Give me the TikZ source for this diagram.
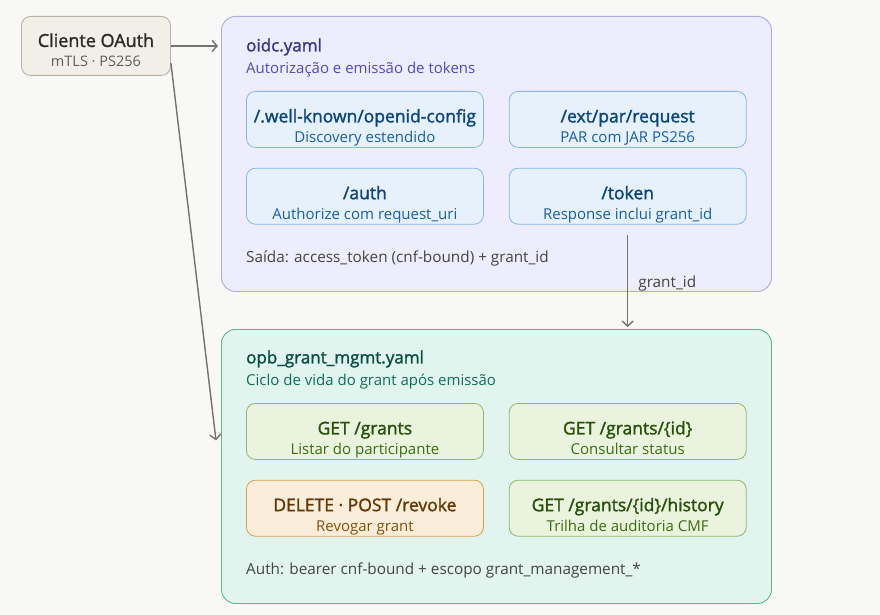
\documentclass[tikz,border=0pt]{standalone}
\usepackage{fontspec}
\setmainfont{Open Sans}
\newfontfamily\medfont{Open Sans}[FakeBold=1.6]
\usepackage{xcolor}
\usetikzlibrary{arrows.meta,positioning}

\definecolor{bgcol}{HTML}{F8F8F6}
\definecolor{cliFill}{HTML}{F1EFE8}
\definecolor{cliDraw}{HTML}{B4B2A9}
\definecolor{cliText}{HTML}{2C2C2A}
\definecolor{cliSub}{HTML}{5F5E5A}
\definecolor{oidcFill}{HTML}{EEEDFE}
\definecolor{oidcDraw}{HTML}{AFA9EC}
\definecolor{oidcText}{HTML}{3C3489}
\definecolor{oidcSub}{HTML}{534AB7}
\definecolor{epFill}{HTML}{E6F1FB}
\definecolor{epDraw}{HTML}{85B7EB}
\definecolor{epText}{HTML}{0C447C}
\definecolor{epSub}{HTML}{185FA5}
\definecolor{gmFill}{HTML}{E1F5EE}
\definecolor{gmDraw}{HTML}{5DB896}
\definecolor{gmText}{HTML}{085041}
\definecolor{gmSub}{HTML}{0F6E56}
\definecolor{okFill}{HTML}{EAF3DE}
\definecolor{okDraw}{HTML}{8DB86A}
\definecolor{okText}{HTML}{27500A}
\definecolor{okSub}{HTML}{3B6D11}
\definecolor{revFill}{HTML}{FAEEDA}
\definecolor{revDraw}{HTML}{D4A04A}
\definecolor{revText}{HTML}{633806}
\definecolor{revSub}{HTML}{854F0B}
\definecolor{lineCol}{HTML}{73726C}
\definecolor{noteCol}{HTML}{444441}

\begin{document}
\begin{tikzpicture}[
    x=1pt, y=-1pt,
    container/.style={rectangle, draw, line width=0.9pt, rounded corners=14pt, minimum width=550pt, anchor=north west},
    ep/.style={rectangle, draw, line width=0.8pt, rounded corners=9pt, minimum width=237pt, minimum height=55pt, align=center, inner sep=1pt, text height=50pt, text depth=4pt, font=\fontsize{17.5}{20}\selectfont},
    title/.style={anchor=west, inner sep=0pt, font=\medfont\fontsize{17}{20}\selectfont},
    subtitle/.style={anchor=west, inner sep=0pt, font=\fontsize{15}{18}\selectfont},
    note/.style={anchor=west, inner sep=0pt, text=noteCol, font=\fontsize{15.3}{18}\selectfont},
    arrow/.style={-{Straight Barb[length=5pt, width=11pt]}, line width=1.4pt, draw=lineCol}
  ]
  % Background
  \fill[bgcol] (0,0) rectangle (880,615);
  \useasboundingbox (0,0) rectangle (880,615);

  % Client
  \node[rectangle, draw=cliDraw, fill=cliFill, line width=0.9pt, rounded corners=9pt, minimum width=149pt, minimum height=59pt, anchor=north west, align=center, inner sep=1pt, text height=46pt, text depth=4pt, font=\fontsize{18}{20}\selectfont]
    (client) at (21,16) {{\medfont\color{cliText}Cliente OAuth}\\{\fontsize{14.5}{16}\selectfont\color{cliSub}mTLS · PS256}};

  % oidc.yaml
  \node[container, draw=oidcDraw, fill=oidcFill, minimum height=275pt] (oidc) at (221,16) {};
  \node[title, text=oidcText] (oidcTitle) at (246,47) {oidc.yaml};
  \node[subtitle, text=oidcSub] (oidcSub) at (246,70) {Autorização e emissão de tokens};

  \node[ep, draw=epDraw, fill=epFill, text=epText, anchor=north west] (wellknown) at (246,91)
    {{\medfont /.well-known/openid-config}\\{\color{epSub}\fontsize{15}{16}\selectfont Discovery estendido}};
  \node[ep, draw=epDraw, fill=epFill, text=epText, right=25pt of wellknown] (par)
    {{\medfont /ext/par/request}\\{\color{epSub}\fontsize{15}{16}\selectfont PAR com JAR PS256}};
  \node[ep, draw=epDraw, fill=epFill, text=epText, below=20pt of wellknown] (auth)
    {{\medfont /auth}\\{\color{epSub}\fontsize{15}{16}\selectfont Authorize com request\_uri}};
  \node[ep, draw=epDraw, fill=epFill, text=epText, right=25pt of auth] (token)
    {{\medfont /token}\\{\color{epSub}\fontsize{15}{16}\selectfont Response inclui grant\_id}};

  \node[note] (oidcOut) at (246,258) {Saída: access\_token (cnf-bound) + grant\_id};

  % opb_grant_mgmt.yaml
  \node[container, draw=gmDraw, fill=gmFill, minimum height=274pt] (grant) at (221,329) {};
  \node[title, text=gmText] (grantTitle) at (246,359) {opb\_grant\_mgmt.yaml};
  \node[subtitle, text=gmSub] (grantSub) at (246,382) {Ciclo de vida do grant após emissão};

  \node[ep, draw=okDraw, fill=okFill, text=okText, anchor=north west] (list) at (246,403)
    {{\medfont GET /grants}\\{\color{okSub}\fontsize{15}{16}\selectfont Listar do participante}};
  \node[ep, draw=okDraw, fill=okFill, text=okText, right=25pt of list] (status)
    {{\medfont GET /grants/\{id\}}\\{\color{okSub}\fontsize{15}{16}\selectfont Consultar status}};
  \node[ep, draw=revDraw, fill=revFill, text=revText, below=20pt of list] (revoke)
    {{\medfont DELETE · POST /revoke}\\{\color{revSub}\fontsize{15}{16}\selectfont Revogar grant}};
  \node[ep, draw=okDraw, fill=okFill, text=okText, right=25pt of revoke] (history)
    {{\medfont GET /grants/\{id\}/history}\\{\color{okSub}\fontsize{15}{16}\selectfont Trilha de auditoria CMF}};

  \node[note] (grantAuth) at (246,570) {Auth: bearer cnf-bound + escopo grant\_management\_*};

  % Arrows
  \draw[arrow, shorten >=3pt] (client.east) -- (client.east -| oidc.west);
  \draw[arrow] ([yshift=13pt]client.south east) -- ([xshift=-5pt, yshift=26pt]grant.west);
  \draw[arrow, shorten <=10pt, shorten >=2pt] (token.south) -- (token.south |- grant.north)
    node[pos=0.56, right=10pt, note, anchor=west] {grant\_id};
\end{tikzpicture}
\end{document}
